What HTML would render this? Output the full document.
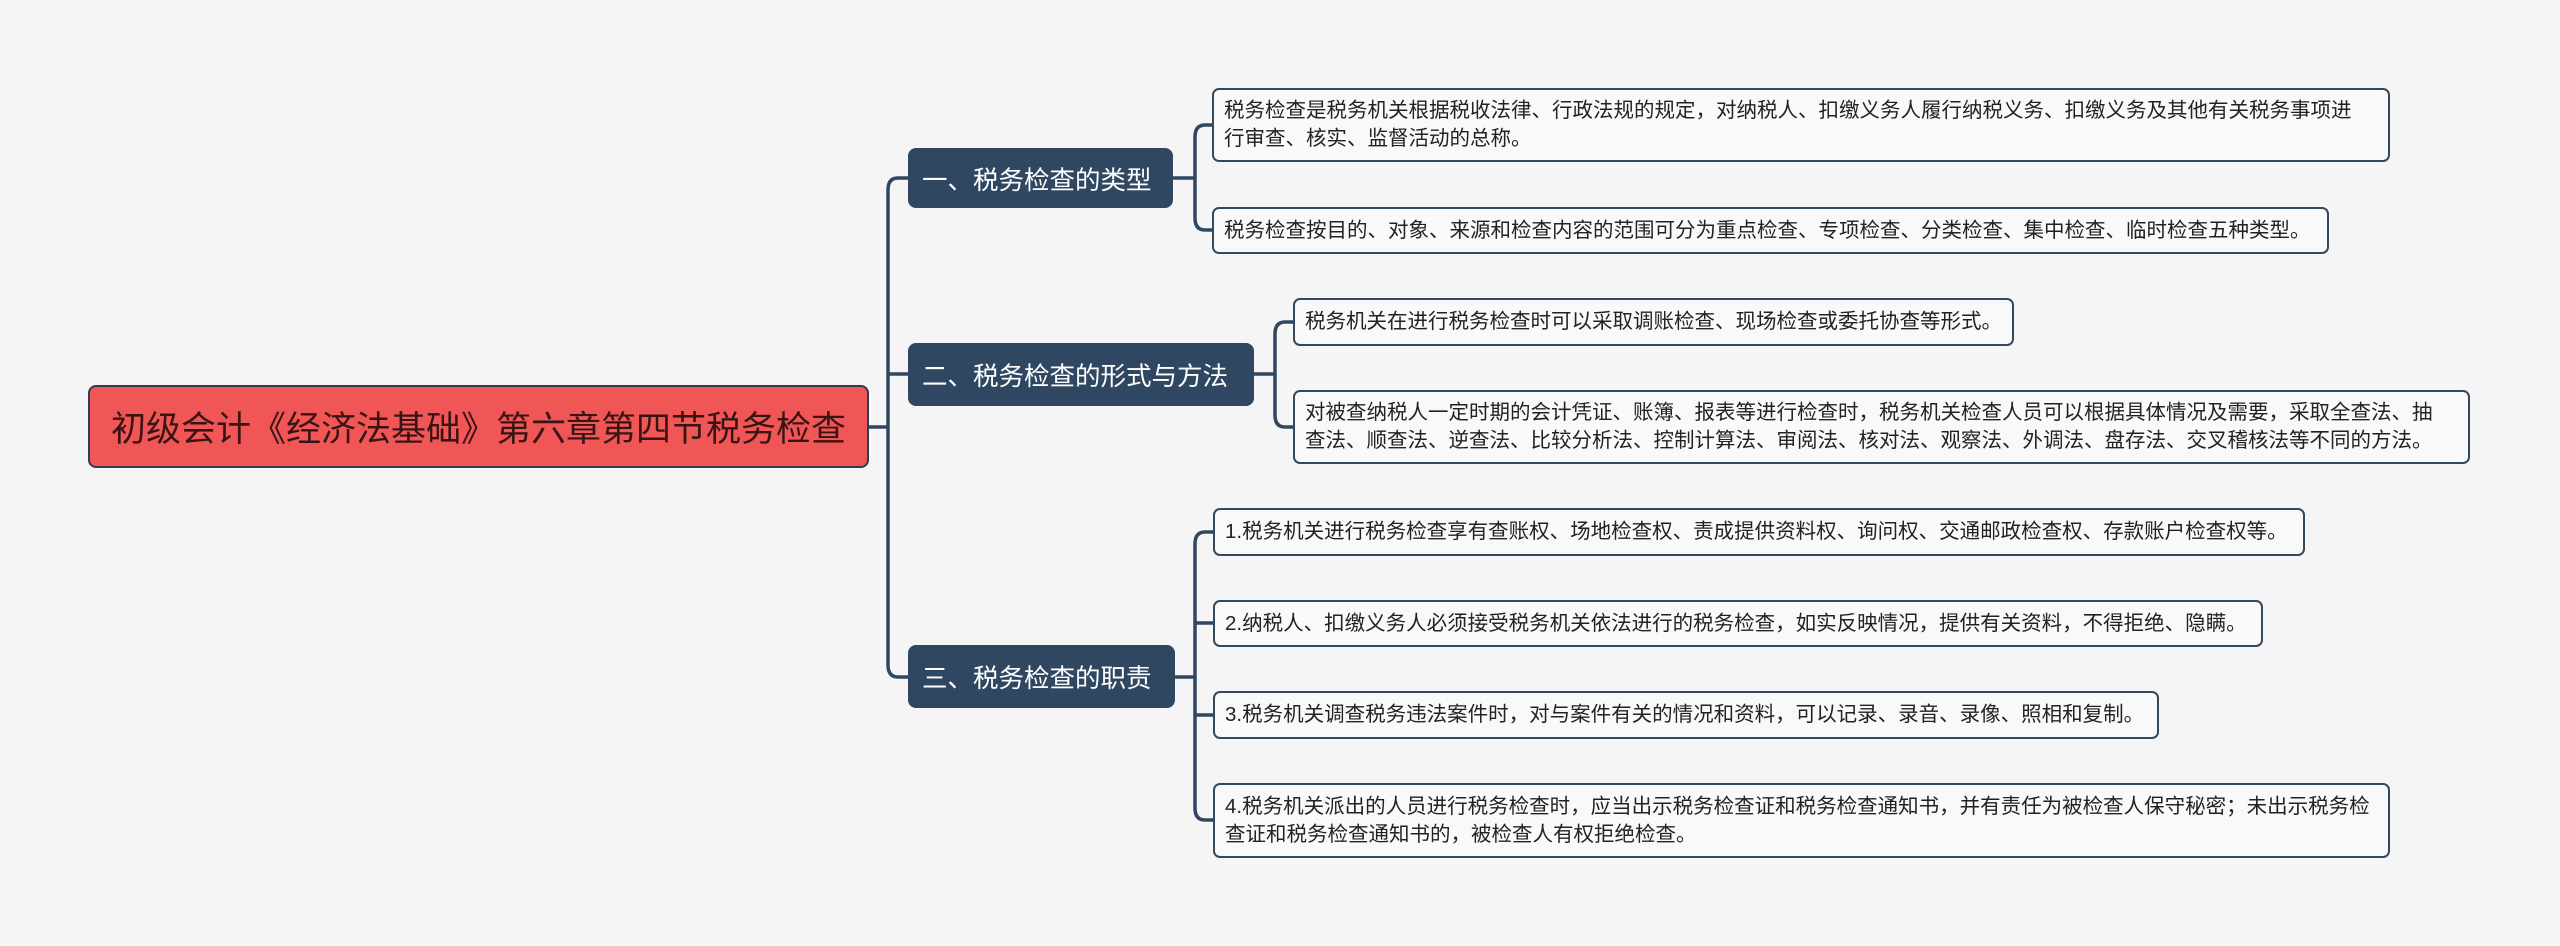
<!DOCTYPE html>
<html><head><meta charset="utf-8"><style>
html,body{margin:0;padding:0;background:#f5f5f5;}
body{width:2560px;height:946px;position:relative;overflow:hidden;font-family:"Liberation Sans","Noto Sans CJK SC",sans-serif;}
.b{position:absolute;box-sizing:border-box;display:flex;align-items:center;}
.root{background:#f05656;border:2px solid #2c3e50;border-radius:8px;color:#3a1414;font-size:35px;justify-content:center;white-space:nowrap;}
.br{background:#2f4761;border-radius:8px;color:#fff;font-size:25.5px;padding-left:14px;white-space:nowrap;}
.lf{background:#f9f9f9;border:2px solid #34495e;border-radius:7px;color:#222;font-size:20.5px;line-height:28px;padding:0 10px 0 10px;white-space:nowrap;}
svg{position:absolute;left:0;top:0;}
</style></head><body>
<svg width="2560" height="946" fill="none" stroke="#2f4761" stroke-width="3.5">
<path d="M869 427 H888"/>
<path d="M908 178 H898 Q888 178 888 190 V665 Q888 677 898 677 H908"/>
<path d="M888 374 Q888 374 898 374 H908"/>
<path d="M1173 178 H1195"/>
<path d="M1212 125 H1205 Q1195 125 1195 137 V218 Q1195 230 1205 230 H1212"/>
<path d="M1254 374 H1275"/>
<path d="M1293 322 H1285 Q1275 322 1275 334 V415 Q1275 427 1285 427 H1293"/>
<path d="M1175 677 H1195"/>
<path d="M1213 532 H1205 Q1195 532 1195 544 V808 Q1195 820 1205 820 H1213"/>
<path d="M1195 623 H1213 M1195 715 H1213"/>
</svg>
<div class="b root" style="left:88px;top:385px;width:781px;height:83px;">初级会计《经济法基础》第六章第四节税务检查</div>
<div class="b br" style="left:908px;top:148px;width:265px;height:60px;">一、税务检查的类型</div>
<div class="b br" style="left:908px;top:343px;width:346px;height:63px;">二、税务检查的形式与方法</div>
<div class="b br" style="left:908px;top:645px;width:267px;height:63px;">三、税务检查的职责</div>
<div class="b lf" style="left:1212px;top:88px;width:1178px;height:74px;">税务检查是税务机关根据税收法律、行政法规的规定，对纳税人、扣缴义务人履行纳税义务、扣缴义务及其他有关税务事项进<br>行审查、核实、监督活动的总称。</div>
<div class="b lf" style="left:1212px;top:207px;width:1117px;height:47px;">税务检查按目的、对象、来源和检查内容的范围可分为重点检查、专项检查、分类检查、集中检查、临时检查五种类型。</div>
<div class="b lf" style="left:1293px;top:298px;width:721px;height:48px;">税务机关在进行税务检查时可以采取调账检查、现场检查或委托协查等形式。</div>
<div class="b lf" style="left:1293px;top:390px;width:1177px;height:74px;">对被查纳税人一定时期的会计凭证、账簿、报表等进行检查时，税务机关检查人员可以根据具体情况及需要，采取全查法、抽<br>查法、顺查法、逆查法、比较分析法、控制计算法、审阅法、核对法、观察法、外调法、盘存法、交叉稽核法等不同的方法。</div>
<div class="b lf" style="left:1213px;top:508px;width:1092px;height:48px;">1.税务机关进行税务检查享有查账权、场地检查权、责成提供资料权、询问权、交通邮政检查权、存款账户检查权等。</div>
<div class="b lf" style="left:1213px;top:600px;width:1050px;height:47px;">2.纳税人、扣缴义务人必须接受税务机关依法进行的税务检查，如实反映情况，提供有关资料，不得拒绝、隐瞒。</div>
<div class="b lf" style="left:1213px;top:691px;width:946px;height:48px;">3.税务机关调查税务违法案件时，对与案件有关的情况和资料，可以记录、录音、录像、照相和复制。</div>
<div class="b lf" style="left:1213px;top:783px;width:1177px;height:75px;">4.税务机关派出的人员进行税务检查时，应当出示税务检查证和税务检查通知书，并有责任为被检查人保守秘密；未出示税务检<br>查证和税务检查通知书的，被检查人有权拒绝检查。</div>
</body></html>
